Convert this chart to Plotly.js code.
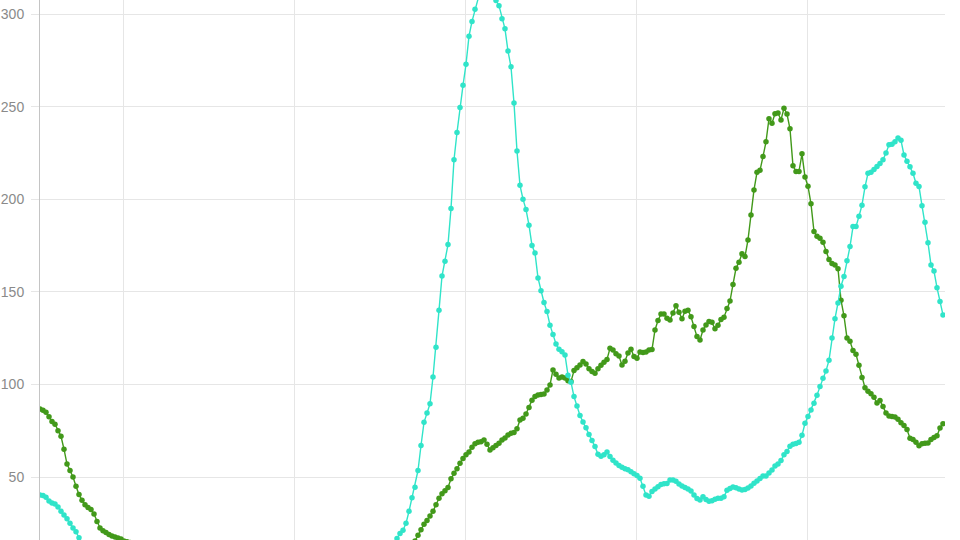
<!DOCTYPE html>
<html>
<head>
<meta charset="utf-8">
<script src="https://cdn.plot.ly/plotly-3.0.1.min.js"></script>
<style>
  html, body { margin: 0; padding: 0; background: #fff; overflow: hidden; }
  #chart { width: 960px; height: 540px; }
</style>
</head>
<body>
<div id="chart"></div>
<script>
// Serie verde (diaria)
var serie_verde = [
    86.7, 86, 85, 82.5, 80, 78.5, 75, 72, 65, 57, 53.5, 50, 45, 40.5, 37.5, 35, 33.5, 32.5, 30, 26,
    22.5, 21, 20, 19, 18.2, 17.6, 17, 16.5, 15.5,
    15, 14.6, 14, 13.5, 13.1, 12.4, 12, 11.6, 11, 10.5,
    10.1, 9.6, 9.2, 8.8, 8.5, 8.1, 7.9, 7.6, 7.3, 7.1,
    6.9, 7, 6.7, 6.6, 6.4, 6.5, 6.2, 6.1, 6.3, 6,
    5.9, 6, 5.8, 5.7, 5.9, 5.6, 5.5, 5.7, 5.4, 5.5,
    5.3, 5.4, 5.2, 5.3, 5.1, 5.2, 5, 5.1, 5.2, 5,
    5.1, 5.3, 5.2, 5.4, 5.3, 5.5, 5.6, 5.5, 5.7, 5.8,
    5.9, 6, 6.2, 6.1, 6.3, 6.5, 6.4, 6.7, 6.9, 7,
    7.2, 7.4, 7.3, 7.6, 7.9, 8, 8.2, 8.5, 8.4, 8.8,
    9, 9.3, 9.2, 9.6, 9.9, 10.2, 10.5, 10.4, 10.9, 11.3,
    11.7, 12.2, 12.5, 13.1, 13.8, 14.5,
    15.5, 18.5, 21.5, 24.5, 26.5, 29, 31.5, 35, 38.5, 41,
    42.6, 44.3, 49, 52, 54.5, 57.4, 60, 62, 63.5, 66,
    68, 68.8, 69, 70, 67.7, 64.6, 65.8, 67, 68.2, 70,
    71, 72.7, 73.6, 74, 76, 80.8, 81.7, 84, 87.5, 91.5,
    93.5, 94.3, 94.5, 94.8, 97, 99.7,
    107.8, 105.5, 103.5, 104, 103.5, 102, 101.5, 107.5, 109, 110.5,
    112.3, 111, 108.5, 106.9, 106, 108.5, 110.3, 112, 113.5, 119.5,
    118.6, 116.5, 115.3, 110.5, 112.5, 117, 119, 115, 114.1, 117.5,
    117.2, 117.5, 118.6, 118.8,
    129.4, 134.5, 138, 138, 135.7, 134.8, 138.5, 142.5, 139, 135.5,
    139.5, 140, 136.5, 131.2, 125.8, 124, 129.4, 132.1, 133.9, 133.5,
    130, 132, 135, 136.3, 141, 145, 154, 162.7, 166, 170.5,
    169, 178, 191.5, 205, 214.5, 215.6, 223, 231, 243.5, 241,
    246.2, 246.5, 242.8, 249.1, 246, 238, 218, 215, 215, 224.5,
    212, 207, 197.5, 182.5, 180, 178.9, 176.8, 171.7, 167.5, 165.3,
    164.5, 162.5, 145.5, 137, 125, 123.3, 118.3, 116.3, 110.3, 103.7,
    98.2, 96.3, 94.9, 93, 89.9, 91.3, 88, 84.5, 83, 82.6,
    82.4, 81.2, 79.3, 77.8, 75.6, 70.9, 70.2, 68.7, 66.9, 68,
    68.2, 68.3, 70.2, 71.3, 72.3, 76.5, 78.8
];

// Serie turquesa (diaria)
var serie_turquesa = [
    40.3, 40, 39, 37, 36, 35.4, 33.8, 31.5, 29.5, 27.5, 25, 22.5, 20.5, 17.2, 14.5,
    13.8, 12.6, 11.5, 10.7, 10, 9.4, 8.9, 8.5, 8.1, 7.8,
    7.5, 7.3, 7, 6.8, 6.6, 6.5, 6.3, 6.1, 6, 5.9,
    5.8, 5.7, 5.6, 5.5, 5.5, 5.4, 5.3, 5.3, 5.2, 5.1,
    5.1, 5, 5, 4.9, 4.9, 4.8, 4.8, 4.7, 4.7, 4.6,
    4.6, 4.6, 4.5, 4.5, 4.4, 4.5, 4.4, 4.3, 4.4, 4.3,
    4.3, 4.2, 4.3, 4.2, 4.2, 4.3, 4.2, 4.3, 4.4, 4.3,
    4.4, 4.5, 4.4, 4.5, 4.6, 4.7, 4.6, 4.8, 4.9, 5,
    5.1, 5.3, 5.4, 5.6, 5.8, 6, 6.2, 6.4, 6.7, 7,
    7.2, 7.5, 7.8, 8.1, 8.3, 8.6, 8.9, 9.1, 9.4, 9.6,
    9.8, 10, 10.1, 10.3, 10.4, 10.6, 10.8, 11, 11.3, 11.7, 12.1, 12.8, 13.8,
    14.5, 16.8, 19.5, 21.2, 25, 31.5, 38.8, 44.5, 53.5, 67,
    79.5, 84.5, 89.5, 104, 120, 140, 158.5, 166.5, 175.5, 195,
    221.3, 236, 249.5, 261.5, 272.8, 288, 296, 302.5, 309, 314,
    316.5, 316, 313.5, 310, 307.3, 304.5, 297.5, 292, 280, 271.5,
    252, 226, 207.5, 200, 194.5, 186, 175, 171, 157.5, 150.5,
    144.2, 139.3, 132, 127, 121.8, 119, 117.6, 115.9, 105, 101.2,
    93.4, 88.4, 83.2, 79.7, 76.6, 72.9, 69.7, 66.4, 62.3, 61.2,
    62, 63.5, 61, 59, 57.5, 56.2, 55.2, 54.4, 53.9, 52.8,
    51.8, 50.8, 49.3, 45, 40.3, 39.6, 42.2, 43.5, 44.8, 45.9,
    46.3, 46.5, 48.4, 48.4, 47.7, 46.2, 45.1, 44.3, 43.5, 42.4,
    40.3, 38.4, 37.6, 39.3, 37.9, 36.9, 37.2, 38, 38.5, 38.5,
    39.4, 42.8, 43.8, 44.6, 44.2, 43.5, 43, 43.2, 44.1, 45.2,
    46.6, 47.9, 49.2, 50.6, 50.5, 52.2, 53.8, 55.9, 57, 58.9,
    62, 63.8, 66.6, 67.7, 68.1, 68.8, 72.5, 79, 82.6, 86.2,
    89.8, 94.2, 98.8, 103.3, 107.3, 113, 125, 135.5, 144, 153,
    158.3, 166.8, 174.4, 185.2, 185.2, 190.8, 196.8, 206.7, 214, 214.5,
    216.1, 217.7, 219.3, 221.3, 225, 229.4, 229.7, 231, 233, 231.8,
    223.9, 220.5, 217.5, 214, 208.6, 206.9, 196.5, 187.5, 176.5, 164.5,
    161.2, 152.2, 144.7, 137.5
];

// Marcas del eje y
var y_ticks = [50, 100, 150, 200, 250, 300];

// Día de cada punto (índice)
var dias = serie_verde.map(function(v, i) { return i; });

function createTrace(values, color) {
    return {
        x: dias,
        y: values,
        mode: 'lines+markers',
        line: { color: color, width: 1.4 },
        marker: { color: color, size: 5.5 },
        hoverinfo: 'y'
    };
}

var trace_verde = createTrace(serie_verde, '#42991a');
var trace_turquesa = createTrace(serie_turquesa, '#30e4c9');

var layout = {
    width: 960,
    height: 540,
    showlegend: false,
    paper_bgcolor: '#ffffff',
    plot_bgcolor: '#ffffff',
    margin: { l: 40, r: 15, t: 0, b: 0 },
    xaxis: {
        range: [0, 301.67],
        showgrid: true,
        gridcolor: '#e6e6e6',
        tick0: 27.67,
        dtick: 57.08,
        showticklabels: false,
        zeroline: false,
        showline: false
    },
    yaxis: {
        range: [15.98, 307.56],
        tickvals: y_ticks,
        gridcolor: '#e6e6e6',
        showline: true,
        linecolor: '#c4c4c4',
        linewidth: 1,
        ticks: 'outside',
        ticklen: 8,
        tickcolor: '#e6e6e6',
        ticklabelstandoff: 4,
        tickfont: { family: 'Liberation Sans, Arial, sans-serif', size: 14, color: '#8a8a8a' },
        zeroline: false
    }
};

Plotly.newPlot('chart', [trace_verde, trace_turquesa], layout, { displayModeBar: false, staticPlot: true });
</script>
</body>
</html>
